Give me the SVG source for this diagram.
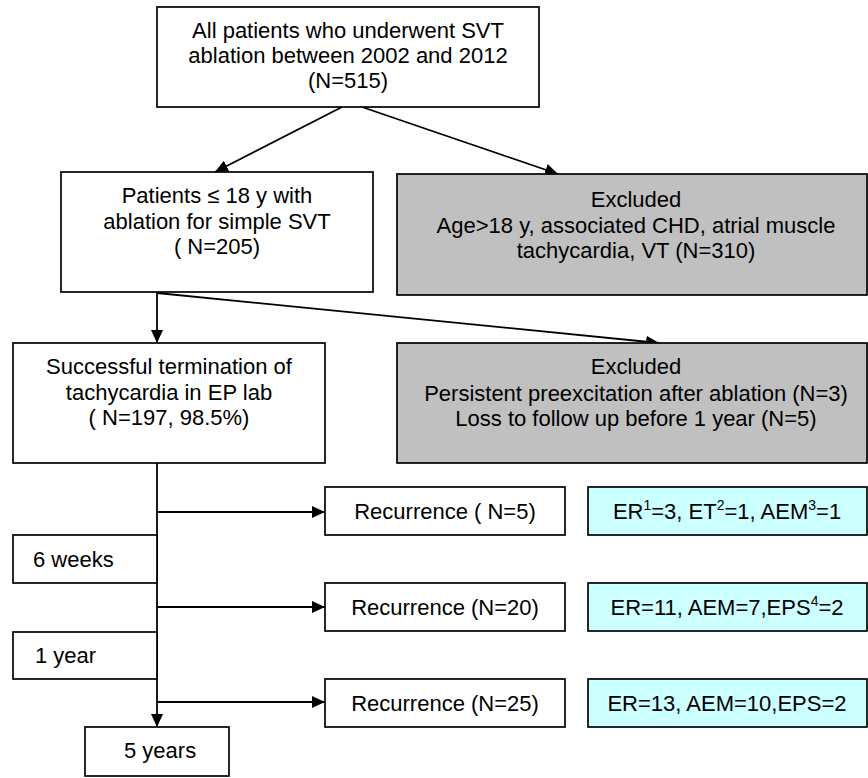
<svg xmlns="http://www.w3.org/2000/svg" width="868" height="778" viewBox="0 0 868 778">
<defs>
<marker id="ah" markerUnits="userSpaceOnUse" markerWidth="14" markerHeight="12" refX="13" refY="6" orient="auto">
<path d="M0,0 L13,6 L0,12 Z" fill="#000"/>
</marker>
<style>
.box{fill:#fff;stroke:#000;stroke-width:1.7}
.gray{fill:#c0c0c0;stroke:#000;stroke-width:1.7}
.cyan{fill:#ccffff;stroke:#000;stroke-width:1.7}
text{font-family:"Liberation Sans",Arial,Helvetica,sans-serif;font-size:22px;fill:#000}
.c{text-anchor:middle}
.ar{stroke:#000;stroke-width:1.8;fill:none;marker-end:url(#ah)}
.sup{font-size:14px}
</style>
</defs>
<rect width="868" height="778" fill="#fff"/>
<g id="connectors">
<line class="ar" x1="342" y1="107" x2="215" y2="172"/>
<line class="ar" x1="362" y1="107" x2="558" y2="174"/>
<line class="ar" x1="157" y1="292" x2="157" y2="343"/>
<line class="ar" x1="157" y1="293" x2="659" y2="343"/>
<line class="ar" x1="157" y1="463" x2="157" y2="727"/>
<line class="ar" x1="157" y1="512" x2="325" y2="512"/>
<line class="ar" x1="157" y1="607" x2="325" y2="607"/>
<line class="ar" x1="157" y1="702" x2="325" y2="702"/>
</g>
<g id="n_all">
<rect class="box" x="157" y="7" width="382" height="100"/>
<text class="c" x="348" y="38">All patients who underwent SVT</text>
<text class="c" x="348" y="63">ablation between 2002 and 2012</text>
<text class="c" x="348" y="88">(N=515)</text>
</g>
<g id="n_peds">
<rect class="box" x="61" y="172" width="312" height="120"/>
<text class="c" x="217" y="203">Patients ≤ 18 y with</text>
<text class="c" x="217" y="229">ablation for simple SVT</text>
<text class="c" x="217" y="254">( N=205)</text>
</g>
<g id="n_excl1">
<rect class="gray" x="397" y="174" width="470" height="121"/>
<text class="c" x="636" y="207">Excluded</text>
<text class="c" x="636" y="233">Age&gt;18 y, associated CHD, atrial muscle</text>
<text class="c" x="636" y="258">tachycardia, VT (N=310)</text>
</g>
<g id="n_success">
<rect class="box" x="13" y="343" width="312" height="120"/>
<text class="c" x="169" y="374">Successful termination of</text>
<text class="c" x="169" y="400">tachycardia in EP lab</text>
<text class="c" x="169" y="425">( N=197, 98.5%)</text>
</g>
<g id="n_excl2">
<rect class="gray" x="397" y="343" width="470" height="120"/>
<text class="c" x="636" y="374">Excluded</text>
<text class="c" x="636" y="401">Persistent preexcitation after ablation (N=3)</text>
<text class="c" x="636" y="426">Loss to follow up before 1 year (N=5)</text>
</g>
<g id="n_rec1">
<rect class="box" x="325" y="487" width="240" height="48"/>
<text class="c" x="445" y="519">Recurrence ( N=5)</text>
</g>
<g id="n_det1">
<rect class="cyan" x="588" y="487" width="279" height="48"/>
<text class="c" x="727" y="519">ER<tspan class="sup" dy="-9">1</tspan><tspan dy="9">=3, ET</tspan><tspan class="sup" dy="-9">2</tspan><tspan dy="9">=1, AEM</tspan><tspan class="sup" dy="-9">3</tspan><tspan dy="9">=1</tspan></text>
</g>
<g id="n_6w">
<rect class="box" x="13" y="535" width="144" height="48"/>
<text x="33" y="567">6 weeks</text>
</g>
<g id="n_rec2">
<rect class="box" x="325" y="583" width="240" height="48"/>
<text class="c" x="445" y="615">Recurrence (N=20)</text>
</g>
<g id="n_det2">
<rect class="cyan" x="588" y="583" width="279" height="48"/>
<text class="c" x="727" y="615">ER=11, AEM=7,EPS<tspan class="sup" dy="-9">4</tspan><tspan dy="9">=2</tspan></text>
</g>
<g id="n_1y">
<rect class="box" x="13" y="632" width="144" height="47"/>
<text x="35" y="663">1 year</text>
</g>
<g id="n_rec3">
<rect class="box" x="325" y="679" width="240" height="48"/>
<text class="c" x="445" y="711">Recurrence (N=25)</text>
</g>
<g id="n_det3">
<rect class="cyan" x="588" y="679" width="279" height="48"/>
<text class="c" x="727" y="711">ER=13, AEM=10,EPS=2</text>
</g>
<g id="n_5y">
<rect class="box" x="85" y="727" width="144" height="49"/>
<text x="124" y="758">5 years</text>
</g>
</svg>
